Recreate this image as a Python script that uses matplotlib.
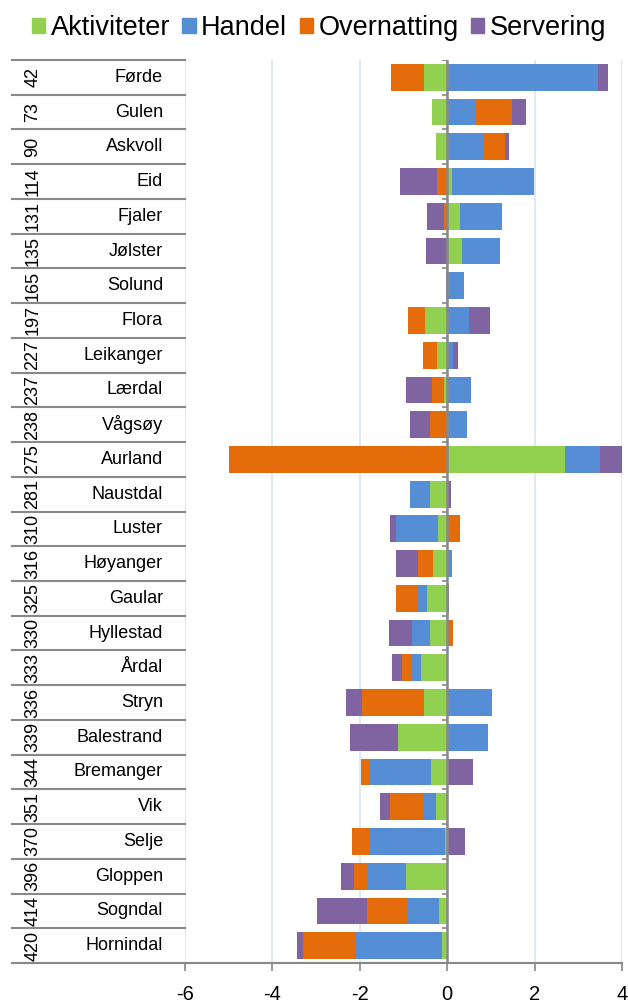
import numpy as np
import matplotlib
matplotlib.use("Agg")
import matplotlib.pyplot as plt
from matplotlib.patches import Patch

plt.rcParams["font.family"] = ["Liberation Sans", "DejaVu Sans"]
plt.rcParams["axes.unicode_minus"] = False

# data
ranks = [42, 73, 90, 114, 131, 135, 165, 197, 227, 237, 238, 275, 281, 310, 316, 325,
         330, 333, 336, 339, 344, 351, 370, 396, 414, 420]
names = ["Førde", "Gulen", "Askvoll", "Eid", "Fjaler", "Jølster", "Solund", "Flora",
         "Leikanger", "Lærdal", "Vågsøy", "Aurland", "Naustdal", "Luster", "Høyanger",
         "Gaular", "Hyllestad", "Årdal", "Stryn", "Balestrand", "Bremanger", "Vik",
         "Selje", "Gloppen", "Sogndal", "Hornindal"]
aktiviteter = [-0.53, -0.34, -0.25, 0.11, 0.29, 0.34, 0.0, -0.50, -0.23, -0.08, 0.0, 2.69, -0.40,
               -0.20, -0.33, -0.46, -0.40, -0.59, -0.54, -1.13, -0.36, -0.25, -0.05, -0.94, -0.19, -0.13]
handel = [3.46, 0.64, 0.84, 1.88, 0.96, 0.86, 0.38, 0.49, 0.13, 0.54, 0.46, 0.81, -0.44,
          -0.97, 0.10, -0.24, -0.40, -0.23, 1.02, 0.93, -1.42, -0.31, -1.73, -0.87, -0.70, -1.97]
overnatting = [-0.75, 0.84, 0.49, -0.23, -0.08, 0.0, 0.0, -0.40, -0.33, -0.27, -0.40, -5.0, 0.0,
               0.30, -0.34, -0.47, 0.14, -0.22, -1.42, 0.0, -0.20, -0.76, -0.40, -0.32, -0.94, -1.21]
servering = [0.21, 0.33, 0.08, -0.84, -0.39, -0.49, -0.03, 0.48, 0.11, -0.59, -0.46, 0.6, 0.08,
             -0.14, -0.51, 0.04, -0.53, -0.22, -0.36, -1.10, 0.59, -0.22, 0.40, -0.31, -1.16, -0.12]

series = ["Aktiviteter", "Handel", "Overnatting", "Servering"]
colors = ["#92d050", "#558ed5", "#e46c0a", "#8064a2"]
values = [aktiviteter, handel, overnatting, servering]

W, H = 628, 1006
fig = plt.figure(figsize=(W / 100, H / 100), dpi=100)
x0, x1, ytop, ybot = 185, 622, 60, 963
ax = fig.add_axes([x0 / W, 1 - ybot / H, (x1 - x0) / W, (ybot - ytop) / H])

n = len(names)
ypos = np.arange(n) + 0.5
pos_left = np.zeros(n)
neg_left = np.zeros(n)
for vals, col in zip(values, colors):
    v = np.array(vals)
    left = np.where(v >= 0, pos_left, neg_left)
    ax.barh(ypos, v, left=left, height=0.77, color=col, linewidth=0, zorder=3)
    pos_left += np.where(v > 0, v, 0)
    neg_left += np.where(v < 0, v, 0)

ax.set_xlim(-6, 4)
ax.set_ylim(n, 0)
ax.set_xticks(range(-6, 5, 2))
ax.set_yticks([])
ax.grid(axis="x", color="#dae3f3", linewidth=1.2, zorder=0)
for s in ["top", "right", "left"]:
    ax.spines[s].set_visible(False)
ax.spines["bottom"].set_color("#888888")
ax.spines["bottom"].set_linewidth(1.5)
ax.tick_params(axis="x", direction="out", length=6, width=1.2, color="#888888",
               labelsize=14.5, pad=10)
ax.axvline(0, color="#888888", linewidth=1.8, zorder=4)

# small ticks on the zero axis at category boundaries
bounds = np.arange(n + 1)
ax.hlines(bounds[:-1], -0.12, 0, color="#888888", linewidth=1.2, zorder=4)

# category table on the left
ytr = ax.get_yaxis_transform()
xl = (12 - x0) / (x1 - x0)
for b in bounds:
    ax.plot([xl, 0], [b, b], transform=ytr, color="#888888", linewidth=1.5, clip_on=False)
for i in range(n):
    ax.text((33 - x0) / (x1 - x0), ypos[i], str(ranks[i]), transform=ytr, rotation=90,
            ha="center", va="center", fontsize=13)
    ax.text((163 - x0) / (x1 - x0), ypos[i], names[i], transform=ytr,
            ha="right", va="center", fontsize=13)

handles = [Patch(color=c, label=s) for s, c in zip(series, colors)]
fig.legend(handles=handles, loc="center", bbox_to_anchor=(0.508, 1 - 28 / H), ncol=4,
           frameon=False, fontsize=19.5, handlelength=0.5, handleheight=0.5,
           handletextpad=0.2, columnspacing=0.45, borderaxespad=0)

fig.savefig("out.png", dpi=100)
